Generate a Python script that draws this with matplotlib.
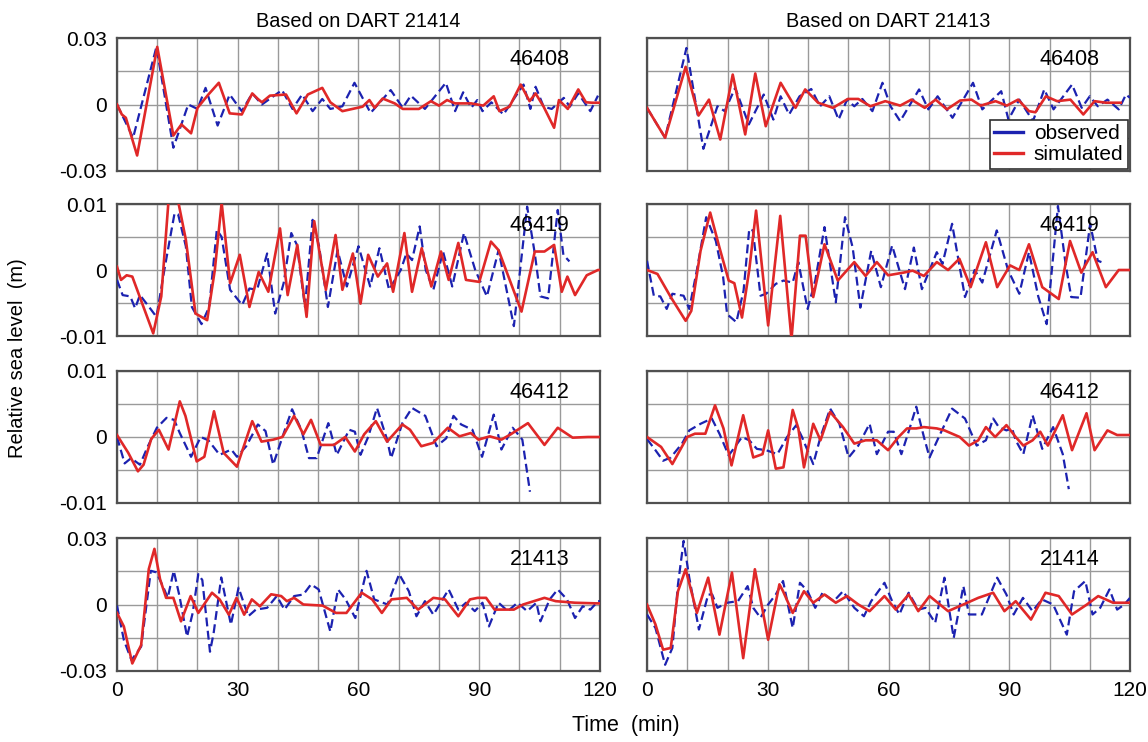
import numpy as np
from matplotlib import pyplot as plt
from matplotlib.lines import Line2D

# ---- observed / simulated sea level ----
# row 1 : station 46408
obs_46408_a_t = [0, 4, 9.8, 14, 17.7, 20, 22, 25, 28, 31, 33.6, 36, 41, 43.6, 46, 48.6, 51, 53, 56, 59, 63, 68, 71,
                 73, 76.5, 81.7, 84, 86, 88, 89.5, 90.8, 93, 96, 101, 102.7, 104, 106, 108, 111, 112.5, 114.6, 117.6,
                 119.5]
obs_46408_a_v = [0, -0.015, 0.026, -0.0195, 0, -0.002, 0.0075, -0.0095, 0.0045, -0.003, 0.005, 0, 0.0065, -0.002,
                 0.0045, -0.003, 0.0025, -0.002, -0.0008, 0.0098, -0.0038, 0.0065, -0.0015, 0.004, -0.002, 0.0098,
                 -0.003, 0.0055, -0.0015, 0.002, -0.003, 0.001, -0.0045, 0.009, -0.002, 0.008, -0.001, -0.002, 0.003,
                 -0.001, 0.005, -0.003, 0.004]
sim_46408_a_t = [0, 1.2, 2.2, 5, 10, 14, 16, 18.4, 20, 22.7, 25.3, 28, 31, 33.6, 35, 36, 38, 42, 44.6, 47.4, 51, 53,
                 56, 61, 62.7, 64, 66, 69, 71, 75, 78, 80, 82, 84, 88, 91, 93.6, 95, 97.5, 100.3, 102.5, 104, 106,
                 108.6, 109.8, 112, 114.6, 116.5, 118, 120]
sim_46408_a_v = [0, -0.0045, -0.006, -0.023, 0.026, -0.014, -0.009, -0.013, -0.0015, 0.0045, 0.0098, -0.004, -0.0045,
                 0.005, 0.0025, 0.001, 0.004, 0.0045, -0.004, 0.0045, 0.0075, 0.001, -0.003, -0.001, 0.002, -0.0015,
                 0.0027, 0.0005, -0.002, -0.002, 0.0015, -0.0005, 0.002, 0.0005, 0.0005, -0.0005, 0.0037, -0.003,
                 -0.001, 0.009, 0.0015, 0.005, -0.001, -0.0105, 0.002, -0.002, 0.0068, 0.001, 0.0008, 0.0008]
obs_46408_b_t = [0, 4.5, 9.8, 14, 17.5, 19.3, 21.9, 25.3, 29, 31.4, 33.2, 35.3, 37.9, 40.8, 43, 45.3, 47.6, 49.7, 51.5,
                 53.5, 56, 58.5, 60.5, 62.9, 67.6, 69.9, 72.2, 75.9, 81, 83.3, 88, 89.8, 92.5, 95.9, 98.7, 101, 105.6,
                 108, 110, 112, 114.4, 117.2, 119, 120]
obs_46408_b_v = [-0.0015, -0.015, 0.0255, -0.02, -0.0008, -0.003, 0.0075, -0.009, 0.0045, -0.0068, 0.0037, -0.0045,
                 0.0037, 0.007, -0.0008, 0.0037, -0.0068, 0.0022, -0.0008, 0.0025, -0.003, 0.0098, -0.0008, -0.0075,
                 0.0068, -0.0022, 0.0037, -0.006, 0.0098, -0.0022, 0.006, -0.0068, 0.0022, -0.0075, 0.0068, -0.0022,
                 0.009, -0.0015, 0.0037, -0.0008, 0.0022, -0.0022, 0.0045, 0.003]
sim_46408_b_t = [0, 4.5, 9.6, 12.8, 15.4, 18.2, 21.3, 24.4, 26.9, 29.5, 33.2, 36.9, 39.3, 42.5, 46.2, 49.9, 52.5, 55.5,
                 59.2, 62.9, 65.7, 69, 71.7, 74.5, 77.8, 80.6, 82.9, 86.6, 89.4, 92.2, 94.9, 96.5, 99.1, 101.9, 105.2,
                 108.4, 111.2, 114, 117.7]
sim_46408_b_v = [-0.0015, -0.015, 0.017, -0.005, 0.0022, -0.0158, 0.0135, -0.0135, 0.014, -0.0098, 0.0098, -0.0015,
                 0.0068, 0.0008, -0.0015, 0.0025, 0.0025, -0.0008, 0.0015, -0.0005, 0.0022, -0.0015, 0.0022, -0.0022,
                 0.0018, 0.0022, -0.0005, 0.0015, -0.0005, 0.0022, -0.003, -0.0035, 0.0037, 0.0015, 0.0022, -0.0045,
                 0.0015, 0.0008, 0.0008]

# row 2 : station 46419
obs_46419_a_t = [0, 1.4, 3.3, 4.5, 5.7, 7.6, 9.8, 11.9, 14.3, 15.2, 17.1, 18.6, 21, 22.9, 24.8, 26, 28.1, 31.1, 32.9,
                 34.8, 37.3, 39.3, 41.4, 43.3, 44.7, 46.7, 48.6, 50.2, 52.4, 54.8, 57.1, 60, 62.9, 65.2, 67.6, 70.5,
                 71.9, 73.3, 75.2, 76.7, 78.6, 81, 83.3, 86.2, 89, 91.9, 94.8, 98.6, 101.9, 103.8, 105.2, 107.1, 109.5,
                 110.9, 112.4]
obs_46419_a_v = [-0.0015, -0.0038, -0.004, -0.0058, -0.0038, -0.0053, -0.0071, 0.0005, 0.0086, 0.0084, 0.0036,
                 -0.0056, -0.0082, -0.0056, 0.0061, 0.005, -0.003, -0.0053, -0.0028, -0.003, 0.0025, -0.0066, -0.002,
                 0.0056, 0.0038, -0.0056, 0.0076, 0.0036, -0.0056, 0.003, -0.0025, 0.0036, -0.0025, 0.0033, -0.003, 0,
                 0.0025, 0.0015, 0.0066, 0, -0.003, 0.0028, -0.0025, 0.0056, 0, -0.004, 0.003, -0.0085, 0.0096, 0.0025,
                 -0.004, -0.0043, 0.0091, 0.0023, 0.0013]
sim_46419_a_t = [0, 1, 2.4, 3.8, 6.7, 9, 11, 12.8, 15, 17.1, 19.5, 22.4, 24.3, 26, 28.1, 30.5, 32.9, 35.2, 37.6, 40.5,
                 42.4, 44.8, 47.1, 49, 51.9, 54.3, 56, 58.6, 60.5, 62.4, 64.8, 67.1, 68.6, 71.4, 73.3, 75.7, 78.1, 80.5,
                 82.4, 84.8, 86.7, 90, 92.9, 94.8, 100.5, 103.8, 106.2, 108.6, 110.5, 111.9, 113.8, 116.7, 119.5, 120]
sim_46419_a_v = [0.0005, -0.0015, -0.0008, -0.001, -0.0058, -0.0096, -0.004, 0.0105, 0.011, 0.0046, -0.0066, -0.0076,
                 0, 0.0102, -0.002, 0.0023, -0.0056, -0.0003, -0.0033, 0.0063, -0.0038, 0.0038, -0.0071, 0.0074,
                 -0.003, 0.0053, -0.003, 0.0025, -0.0051, 0.0023, -0.001, 0.001, -0.0033, 0.0056, -0.0033, 0.0033,
                 -0.0025, 0.0028, -0.0015, 0.0041, -0.0015, -0.0018, 0.0043, 0.003, -0.0063, 0.0028, 0.0028, 0.0038,
                 -0.0033, -0.001, -0.0038, -0.0008, 0, 0]
obs_46419_b_t = [0, 1.7, 3.3, 4.9, 6.3, 9.1, 10.5, 12.4, 14.7, 17.1, 18.9, 19.9, 22.2, 24, 25.4, 26.3, 28.2, 29.6, 32,
                 33.9, 36.2, 37.6, 39.9, 41.8, 44.1, 46.9, 49.2, 51.1, 53, 55.7, 58.1, 60.9, 64.1, 66.3, 68.3, 72, 73.4,
                 75.8, 79, 81.4, 83.3, 86.9, 89.7, 92.5, 94.9, 97.2, 99.3, 102.1, 104, 105.4, 107.7, 110.1, 112, 112.9]
obs_46419_b_v = [0.0014, -0.0039, -0.004, -0.0059, -0.0036, -0.0039, -0.0059, 0, 0.008, 0.0044, -0.001, -0.0067,
                 -0.0079, -0.0031, 0.0062, 0.006, -0.0039, -0.0036, -0.0021, -0.0016, -0.0019, 0.0012, -0.0059,
                 -0.0016, 0.0065, -0.0049, 0.008, 0.0034, -0.0057, 0.0029, -0.0026, 0.0037, -0.0029, 0.0034, -0.0029,
                 0.0027, 0.0009, 0.007, -0.0041, 0, -0.0019, 0.006, 0, -0.0036, 0.0027, -0.004, -0.0082, 0.0097, 0.0009,
                 -0.0041, -0.0042, 0.007, 0.0014, 0.0012]
sim_46419_b_t = [0, 2.6, 5.9, 9.6, 11, 13.3, 15.7, 18, 20.3, 21.7, 23.6, 25.4, 27.1, 30.1, 33.1, 35.9, 38, 39.4, 41.3,
                 44.1, 47.4, 51.5, 54.3, 57.1, 59.9, 63.7, 66, 68.8, 72, 74.8, 77.6, 80.4, 84.2, 87, 90.2, 92.5, 94.9,
                 98.2, 102.3, 105.1, 107.9, 110.7, 114, 117.2, 120]
sim_46419_b_v = [0, -0.0006, -0.0041, -0.0077, -0.0062, 0.0029, 0.0087, 0.0034, -0.0016, -0.002, -0.0072, 0, 0.009,
                 -0.0084, 0.0082, -0.0105, 0.0052, 0.0052, -0.0041, 0.0039, -0.0016, 0.0012, -0.0009, 0.0012, -0.0008,
                 -0.0004, -0.0001, -0.0009, 0.0012, 0, 0.0017, -0.0026, 0.0042, -0.0026, 0.0007, 0, 0.0039, -0.0026,
                 -0.0044, 0.0044, -0.0004, 0.0027, -0.0026, 0, 0]

# row 3 : station 46412
obs_46412_a_t = [0, 1.9, 3.5, 5.7, 7.6, 9.9, 12.3, 14.2, 15.6, 18.4, 20.8, 22.7, 25.5, 28.4, 29.8, 32.1, 35, 36.9, 38.8,
                 41.1, 43.5, 45.8, 47.7, 49.6, 52.5, 54.6, 57.7, 59.1, 60.5, 62.4, 64.6, 67.1, 68.1, 70.9, 73.3, 76.6,
                 79.4, 81.8, 83.6, 85.5, 88.3, 90.7, 93.6, 95.5, 98.3, 100.7, 102.6]
obs_46412_a_v = [0, -0.004, -0.0032, -0.0042, -0.0015, 0.0014, 0.0029, 0.0026, 0.0006, -0.003, 0, -0.0005, -0.0027,
                 -0.0019, -0.003, -0.0014, 0.0019, 0.0009, -0.0042, 0, 0.0042, 0.0011, -0.0032, -0.0032, 0.0021,
                 -0.0027, 0.0011, 0.0008, -0.0027, 0, 0.0044, -0.0004, -0.0032, 0.0021, 0.0044, 0.0032, -0.0014,
                 -0.0002, 0.0032, 0.0019, 0.0011, -0.003, 0.0034, -0.0019, 0.0014, -0.0004, -0.0083]
sim_46412_a_t = [0, 2.8, 5.2, 6.6, 8.5, 10.4, 12.8, 15.6, 17, 19.8, 21.7, 24.1, 26.5, 29.8, 33.6, 35.9, 38.8, 41.1, 44,
                 46.3, 48.2, 50.6, 53.9, 56.7, 59.1, 61.4, 64.3, 67.1, 70.9, 72.8, 75.6, 78.5, 82.2, 85.1, 87.9, 89.8,
                 92.6, 95.5, 97.8, 102.1, 106.2, 109.5, 113.2, 117, 120]
sim_46412_a_v = [0.0003, -0.0024, -0.0052, -0.0042, -0.0003, 0.0011, -0.0019, 0.0054, 0.0032, -0.0037, -0.003, 0.0039,
                 -0.0024, -0.0045, 0.0024, -0.0007, -0.0004, 0, 0.0032, 0.0004, 0.0026, -0.0012, -0.0012, 0, -0.0022,
                 0.0004, 0.0024, -0.0007, 0.0019, 0.0011, -0.0014, -0.0009, 0.0014, 0.0001, 0.0006, -0.0004, 0.0001,
                 -0.0004, 0.0004, 0.0021, -0.0012, 0.0014, -0.0001, 0, 0]
obs_46412_b_t = [0, 2.1, 4, 5.9, 8.7, 10.5, 13.3, 16.1, 18, 20.3, 23.6, 25.4, 27.3, 29.6, 32.4, 34.8, 37.1, 38.5, 41.3,
                 43.1, 45.5, 47.8, 50.1, 52.5, 55.3, 57.1, 59.9, 61.3, 63.2, 65.1, 66.9, 68.8, 70.2, 72.5, 75.8, 79,
                 81.9, 84.2, 86, 87.4, 89.3, 90.7, 91.6, 93.5, 95.8, 98.2, 100.9, 103.3, 104.8]
obs_46412_b_v = [-0.0003, -0.002, -0.0036, -0.0031, -0.001, 0.001, 0.002, 0.0028, 0.0005, -0.0028, 0, -0.0005,
                 -0.0018, -0.002, -0.0026, 0, 0.0018, 0, -0.0041, 0, 0.0043, 0.002, -0.0031, -0.0013, 0.002, -0.0026,
                 0.0008, 0.0008, -0.0026, 0.001, 0.0046, 0, -0.0031, 0, 0.0043, 0.0028, -0.0013, -0.0005, 0.0028,
                 0.0015, 0.001, 0.0013, -0.0005, -0.0026, 0.0033, -0.0018, 0.0015, -0.0026, -0.0079]
sim_46412_b_t = [0, 3.5, 6.3, 10, 11.9, 14.5, 16.9, 19, 21, 23.9, 26.4, 28.7, 30.1, 32, 33.9, 36.2, 37.6, 39, 41.3,
                 43.1, 45.5, 48.7, 51.5, 54.3, 57.1, 59.9, 62.5, 64.6, 66.9, 68.8, 72, 73.9, 75.8, 77.7, 80, 82.3, 84.2,
                 86.5, 89.3, 91.6, 93.5, 95.8, 97.7, 99.6, 103.3, 105.6, 109.2, 111.2, 114.4, 116.8, 120]
sim_46412_b_v = [0, -0.0015, -0.0041, 0, 0.0005, 0.0005, 0.0048, 0.0013, -0.0043, 0.0033, -0.0031, -0.0026, 0.001,
                 -0.0048, -0.0046, 0.0041, 0.0013, -0.0046, 0.002, -0.0005, 0.0038, 0.0015, -0.001, -0.0005, -0.0005,
                 -0.002, 0, 0.0013, 0.0013, 0.0015, 0.0013, 0.001, 0.0005, 0, -0.0013, -0.0005, 0.0015, 0, 0.0018, 0,
                 -0.0013, -0.0005, 0.0008, -0.0013, 0.0033, -0.002, 0.0036, -0.002, 0.001, 0.0003, 0.0003]

# row 4 : station 21413 (left) / 21414 (right)
obs_21413_t = [0, 1.7, 3.6, 6, 8.4, 9.8, 11.7, 12.6, 14.1, 15.5, 17.4, 18.8, 20.2, 21.2, 23.1, 24, 25.9, 28.3, 30.2,
               32.6, 34.5, 37.3, 39.7, 41.6, 44, 46.3, 48.2, 50.1, 53, 54.9, 56.8, 59.2, 62, 63.9, 67.2, 70.1, 72.5,
               74.4, 76.5, 78.6, 82.4, 84.8, 86.7, 88.9, 90.8, 92.4, 94.8, 97.1, 99.5, 101.9, 104.2, 105.2, 107.5,
               109.5, 111.8, 113.8, 115.7, 117.6, 119.5, 120]
obs_21413_v = [-0.0005, -0.016, -0.0251, -0.019, 0.0152, 0.0145, 0.007, 0.003, 0.0152, 0.004, -0.0145, -0.0038, 0.0137,
               0.011, -0.0213, -0.013, 0.0122, -0.0091, 0.0076, -0.0053, -0.0023, -0.0015, 0.0038, -0.0023, 0.0038,
               0.0045, 0.0091, 0.0068, -0.0122, 0.0068, 0.0023, -0.0061, 0.0152, 0.0023, 0, 0.0137, 0.006, -0.0053,
               0.0015, -0.0046, 0.0068, -0.0023, 0.0008, -0.003, 0.0008, -0.0099, 0.0008, -0.003, 0.0008, -0.003,
               0.0008, -0.0076, 0.0023, 0.0068, 0.0023, -0.0061, -0.0008, -0.0023, 0.0015, 0.0015]
sim_21413_t = [0, 1.7, 3.8, 6, 7.9, 9.3, 10.7, 12.2, 14, 15.9, 18.3, 20.2, 23.6, 25.5, 27.8, 29.7, 31.6, 33.5, 35.5,
               38.3, 40.8, 42.2, 44, 46.3, 51.1, 54.4, 57, 60.8, 63.4, 65.8, 68.2, 72, 74.8, 78.6, 81.5, 84.8, 87.7,
               89.6, 91.7, 93.8, 98.6, 100.9, 106.2, 109, 113.8, 119.3, 120]
sim_21413_v = [-0.0038, -0.0099, -0.0266, -0.0183, 0.016, 0.0251, 0.0114, 0.003, 0.003, -0.0076, 0.0038, -0.0038,
               0.0053, 0.0023, -0.0046, 0.003, -0.0046, 0.0023, -0.0008, 0.0046, 0.0038, 0.0015, 0.003, 0, -0.0005,
               -0.0038, -0.0038, 0.0053, 0.0023, -0.0038, 0.0023, 0.003, -0.0023, 0.003, 0.0023, -0.0053, 0.0023,
               0.003, 0.003, -0.0023, -0.0023, 0, 0.003, 0.0015, 0.0008, 0.0005, 0.0005]
obs_21414_t = [0, 2.1, 4.5, 6.3, 7.7, 9.1, 10.5, 12.9, 15.2, 16.2, 17.5, 19.9, 22.6, 25, 26.4, 28.2, 30.1, 32, 33.8,
               36.2, 38, 39.9, 41.8, 43.6, 46.4, 48.7, 51.5, 53.9, 55.7, 59, 60.9, 62.7, 65, 67.4, 69.2, 71.6, 73.9,
               75, 76.2, 78.6, 80, 83.2, 87, 89.3, 91.1, 93.4, 95.8, 98.1, 100.9, 104.3, 106.1, 108.9, 110.7, 112.6,
               114.9, 116.8, 118.6, 120]
obs_21414_v = [-0.0045, -0.0106, -0.0272, -0.0196, 0.0091, 0.0287, 0.0121, -0.0113, 0.0045, 0.0045, -0.0015, 0.0008,
               0.0015, 0.0083, -0.0015, -0.006, 0, 0.0045, 0.0106, -0.0106, 0.0098, 0.006, -0.0015, 0.0053, 0.0015,
               0.006, -0.0015, -0.0053, 0.0015, 0.0098, 0.0015, -0.0045, 0.0053, -0.0023, -0.0015, -0.0083, 0.0121,
               -0.0015, -0.0151, 0.0083, -0.0045, -0.0045, 0.0121, 0.0045, -0.0045, 0.003, -0.003, 0.0023, 0,
               -0.0136, 0.006, 0.0106, -0.0045, -0.0015, 0.0068, -0.0023, 0, 0.003]
sim_21414_t = [0, 2.1, 4, 5.9, 7.7, 9.6, 12.4, 15.2, 18, 21.1, 23.9, 26.8, 30.1, 32.9, 33.8, 36.2, 39, 41.3, 44.1, 46.9,
               49.7, 52.5, 55.3, 59, 61.8, 65, 67.4, 70.2, 74.8, 78.6, 82.3, 86, 88.8, 91.6, 95.4, 99, 102.3, 105.6,
               109.3, 112.1, 115.8, 120]
sim_21414_v = [0, -0.009, -0.0204, -0.0196, 0.006, 0.0159, -0.0038, 0.0121, -0.0136, 0.0144, -0.0242, 0.0159, -0.0159,
               0.0091, 0.006, -0.0038, 0.006, 0.0008, 0.0045, 0.0008, 0.0038, 0, -0.003, 0.0038, -0.0023, 0.0045,
               -0.003, 0.0038, -0.003, 0, 0.003, 0.0053, -0.003, 0.0015, -0.0068, 0.0053, 0.0038, -0.0045, 0, 0.0038,
               0.0008, 0.0008]

col_titles = ['Based on DART 21414', 'Based on DART 21413']
stations = [['46408', '46408'], ['46419', '46419'], ['46412', '46412'], ['21413', '21414']]
y_limits = [0.03, 0.01, 0.01, 0.03]
x_ticks = [0, 30, 60, 90, 120]


def draw_panel(ax, t_obs, v_obs, t_sim, v_sim, ymax, station, left, bottom):
    ''' 1パネル分の描画 '''
    ax.plot(t_obs, v_obs, color='#1c22b0', lw=1.6, ls=(0, (4, 2)), zorder=3)
    ax.plot(t_sim, v_sim, color='#e02828', lw=1.9, zorder=4)

    ax.set_xlim(0, 120)
    ax.set_ylim(-ymax, ymax)

    # 格子線 (x: 10分毎, y: 4分割) -> major と minor の両方に引く
    ax.set_xticks(np.arange(0, 121, 10), minor=True)
    ax.set_yticks(np.linspace(-ymax, ymax, 5), minor=True)
    ax.set_xticks(x_ticks)
    ax.set_yticks([-ymax, 0, ymax])
    ax.grid(which='both', color='#9a9a9a', lw=1.0)
    ax.set_axisbelow(True)
    ax.set_yticklabels(['-%g' % ymax, '0', '%g' % ymax])
    ax.tick_params(which='both', length=0, labelsize=15, pad=7)
    if not left:
        ax.set_yticklabels([])
    if not bottom:
        ax.set_xticklabels([])

    for sp in ax.spines.values():
        sp.set_color('#505050')
        sp.set_linewidth(1.6)

    ax.text(0.875, 0.84, station, transform=ax.transAxes, fontsize=15.5,
            ha='center', va='center', zorder=5)


plt.rcParams['font.family'] = ['Liberation Sans', 'DejaVu Sans']

fig = plt.figure(figsize=(11.48, 7.42), dpi=100)

series = [
    [(obs_46408_a_t, obs_46408_a_v, sim_46408_a_t, sim_46408_a_v),
     (obs_46408_b_t, obs_46408_b_v, sim_46408_b_t, sim_46408_b_v)],
    [(obs_46419_a_t, obs_46419_a_v, sim_46419_a_t, sim_46419_a_v),
     (obs_46419_b_t, obs_46419_b_v, sim_46419_b_t, sim_46419_b_v)],
    [(obs_46412_a_t, obs_46412_a_v, sim_46412_a_t, sim_46412_a_v),
     (obs_46412_b_t, obs_46412_b_v, sim_46412_b_t, sim_46412_b_v)],
    [(obs_21413_t, obs_21413_v, sim_21413_t, sim_21413_v),
     (obs_21414_t, obs_21414_v, sim_21414_t, sim_21414_v)],
]

# パネル位置 (図の割合)
col_x = [117 / 1148, 647 / 1148]
width = 483 / 1148
row_y = [(38, 171), (204, 336), (371, 503), (538, 671)]

axes = []
for r in range(4):
    top, bot = row_y[r]
    for c in range(2):
        ax = fig.add_axes([col_x[c], 1 - bot / 742, width, (bot - top) / 742])
        to, vo, ts, vs = series[r][c]
        draw_panel(ax, to, vo, ts, vs, y_limits[r], stations[r][c], c == 0, r == 3)
        if r == 0:
            ax.set_title(col_titles[c], fontsize=14.3, pad=8)
        axes.append(ax)

# 凡例 (右上パネル)
handles = [Line2D([], [], color='#1c22b0', lw=2.4), Line2D([], [], color='#e02828', lw=2.4)]
leg = axes[1].legend(handles, ['observed', 'simulated'], loc='lower right', fontsize=15,
                     fancybox=False, framealpha=1, edgecolor='#303030', handlelength=1.4,
                     handletextpad=0.5, borderpad=0.2, borderaxespad=0.12, labelspacing=0.1)
leg.get_frame().set_linewidth(1.2)
leg.set_zorder(10)

fig.text(18 / 1148, 1 - 358 / 742, 'Relative sea level  (m)', rotation=90,
         ha='center', va='center', fontsize=14.5)
fig.text(626 / 1148, 1 - 725 / 742, 'Time  (min)', ha='center', va='center', fontsize=15.5)

fig.savefig('out.png', dpi=100)
